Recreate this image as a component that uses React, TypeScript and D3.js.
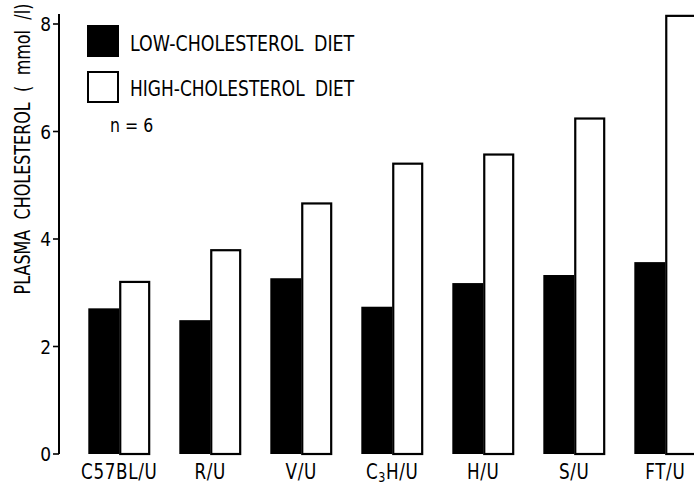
import React from "react";
import * as d3 from "d3";

// Mouse strains and mean plasma cholesterol (mmol/l) on each diet
const strains = ["C57BL/U", "R/U", "V/U", "C3H/U", "H/U", "S/U", "FT/U"];
const lowDiet = [2.71, 2.49, 3.27, 2.74, 3.18, 3.33, 3.57];
const highDiet = [3.22, 3.81, 4.68, 5.42, 5.59, 6.26, 8.17];
const yTicks = [0, 2, 4, 6, 8];
const dietKeys = ["low", "high"];

const W = 694;
const H = 484;
const FONT = "'DejaVu Sans', sans-serif";

export default function App() {
  const y = d3.scaleLinear().domain([0, 8]).range([454, 24]);
  const x = d3
    .scaleBand<string>()
    .domain(strains)
    .range([61, 723.5])
    .paddingInner(0.32)
    .paddingOuter(0.3);
  const inner = d3.scaleBand<string>().domain(dietKeys).range([0, x.bandwidth()]);

  const rows = strains.map((s, i) => ({ strain: s, low: lowDiet[i], high: highDiet[i] }));

  const strainLabel = (s: string) => {
    if (s === "C3H/U") {
      return (
        <>
          C
          <tspan dy={3} fontSize={14}>3</tspan>
          <tspan dy={-3}>H/U</tspan>
        </>
      );
    }
    return s;
  };

  return (
    <svg
      width={W}
      height={H}
      style={{ position: "absolute", left: 0, top: 0, background: "#fff" }}
      fontFamily={FONT}
    >
      <rect width={W} height={H} fill="#fff" />

      {/* bars */}
      {rows.map((r) => {
        const x0 = x(r.strain)!;
        const bw = inner.bandwidth();
        return (
          <g key={r.strain}>
            <rect
              x={x0 + inner("low")!}
              y={y(r.low)}
              width={bw}
              height={y(0) - y(r.low)}
              fill="#000"
            />
            <rect
              x={x0 + inner("high")! + 1}
              y={y(r.high) + 1}
              width={bw - 2}
              height={y(0) - y(r.high) - 1}
              fill="#fff"
              stroke="#000"
              strokeWidth={2.2}
            />
          </g>
        );
      })}

      {/* y axis */}
      <line x1={59} x2={59} y1={14} y2={y(0)} stroke="#000" strokeWidth={2} />
      {yTicks.map((t) => (
        <g key={t}>
          <line x1={53} x2={59} y1={y(t)} y2={y(t)} stroke="#000" strokeWidth={1.6} />
          <text
            transform={`translate(51, ${y(t) + 7}) scale(0.85, 1)`}
            fontSize={20}
            textAnchor="end"
            fill="#000"
          >
            {t}
          </text>
        </g>
      ))}
      <text
        transform={`translate(30, 149) rotate(-90) scale(0.76, 1)`}
        fontSize={21}
        textAnchor="middle"
        wordSpacing={7}
        fill="#000"
      >
        PLASMA CHOLESTEROL ( mmol /l)
      </text>

      {/* x labels, centred under each strain */}
      {strains.map((s) => (
        <text
          key={s}
          transform={`translate(${x(s)! + x.bandwidth() / 2}, 479) scale(0.8, 1)`}
          fontSize={21}
          letterSpacing={0.8}
          textAnchor="middle"
          fill="#000"
        >
          {strainLabel(s)}
        </text>
      ))}

      {/* legend */}
      <rect x={87} y={25} width={32} height={32} fill="#000" />
      <text transform="translate(130, 51) scale(0.83, 1)" fontSize={21} wordSpacing={6} fill="#000">
        LOW-CHOLESTEROL DIET
      </text>
      <rect x={88} y={72} width={30} height={30} fill="#fff" stroke="#000" strokeWidth={2} />
      <text transform="translate(130, 96) scale(0.81, 1)" fontSize={21} wordSpacing={6} fill="#000">
        HIGH-CHOLESTEROL DIET
      </text>
      <text transform="translate(110, 132) scale(0.83, 1)" fontSize={19} fill="#000">
        n = 6
      </text>
    </svg>
  );
}
